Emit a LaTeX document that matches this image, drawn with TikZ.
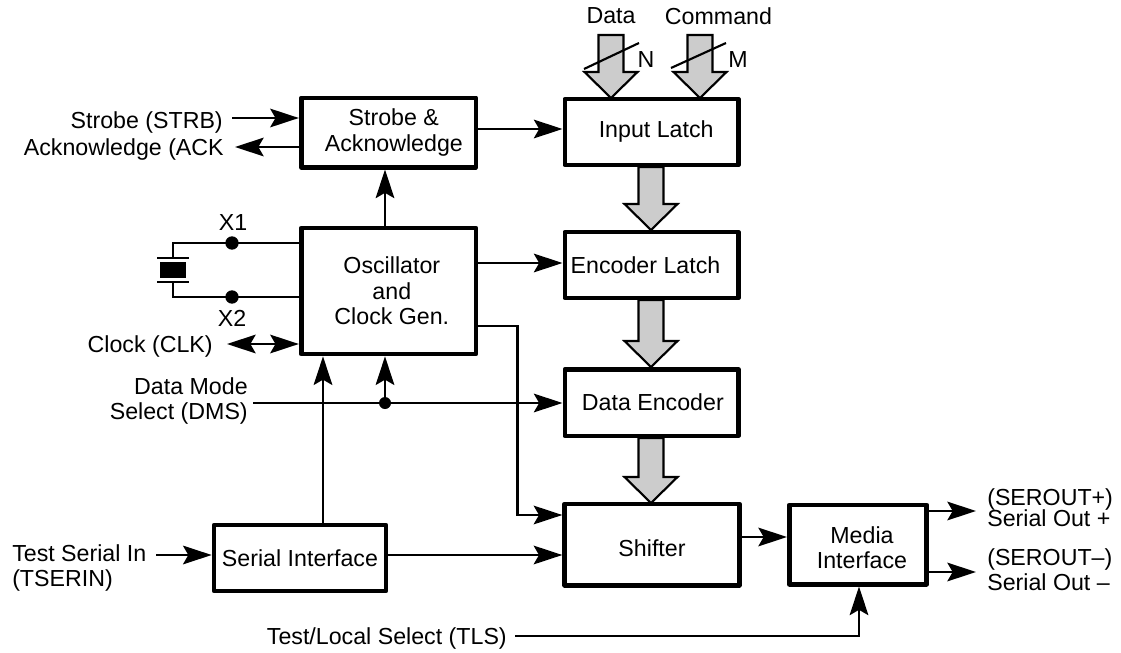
\documentclass[tikz,border=0pt]{standalone}
\usepackage{fontspec}
\setmainfont{Liberation Sans}
\usetikzlibrary{arrows.meta}
\tikzset{
    blockbox/.style={draw, line width=3.5pt, line join=round, fill=white, align=center, inner sep=0pt},
    sig/.style={line width=1.6pt},
    sigarrow/.style={sig, -{Stealth[length=21.5pt, width=14pt, inset=4pt]}},
    sigboth/.style={sig, {Stealth[length=21.5pt, width=14pt, inset=4pt]}-{Stealth[length=21.5pt, width=14pt, inset=4pt]}},
    busarrow/.style={draw, line width=1.6pt, fill=black!20, line join=miter},
    lbl/.style={align=center, inner sep=0pt},
    lblr/.style={align=right, anchor=east, inner sep=0pt},
    lbll/.style={align=left, anchor=west, inner sep=0pt},
    junction/.style={circle, fill=black, inner sep=0pt, minimum size=10pt}
}
% shaft centre x, top y, tip y
\newcommand{\busdown}[3]{
    \draw [busarrow] (#1-12.5,#2) -- (#1+12.5,#2) -- (#1+12.5,#3-26) -- (#1+26.5,#3-26)
        -- (#1,#3) -- (#1-26.5,#3-26) -- (#1-12.5,#3-26) -- cycle;
}
\begin{document}
\begin{tikzpicture}[x=0.75pt, y=-0.75pt, every node/.style={font=\fontsize{17.4pt}{19pt}\selectfont}]
    \useasboundingbox (0,0) rectangle (1121,653);
    % blocks
    \node [blockbox, minimum width=131pt, minimum height=52pt] (strobe) at (388.5,132.5) {\hspace*{8pt}Strobe \&\\\hspace*{8pt}Acknowledge};
    \node [blockbox, minimum width=130pt, minimum height=49.5pt] (input) at (651.5,132) {\hspace*{7pt}Input Latch};
    \node [blockbox, minimum width=130pt, minimum height=49.5pt] (encoder) at (651.5,265) {Encoder Latch\hspace*{9pt}};
    \node [blockbox, minimum width=130pt, minimum height=50pt] (dataenc) at (651.5,402.5) {\hspace*{2pt}Data Encoder};
    \node [blockbox, minimum width=131pt, minimum height=61pt] (shifter) at (652,544.5) {\rule{0pt}{17.7pt}Shifter};
    \node [blockbox, minimum width=131pt, minimum height=94.5pt] (osc) at (388.5,291) {\hspace*{5pt}Oscillator\\\hspace*{5pt}and\\\hspace*{5pt}Clock Gen.};
    \node [blockbox, minimum width=129pt, minimum height=49.5pt] (serial) at (300,558) {Serial Interface};
    \node [blockbox, minimum width=103pt, minimum height=59.5pt] (media) at (858,544.5) {\rule{0pt}{17.7pt}\hspace*{6pt}Media\\\hspace*{6pt}Interface};
    % buses
    \busdown{611}{35}{98}
    \busdown{700}{35}{98}
    \busdown{651}{167}{230}
    \busdown{651}{300}{367}
    \busdown{651}{438}{503}
    \coordinate (sn1) at (584,69);
    \coordinate (sn2) at (639,43);
    \coordinate (sm1) at (671,68);
    \coordinate (sm2) at (726,43);
    \draw [sig] (sn1) -- (sn2);
    \draw [sig] (sm1) -- (sm2);
    \node [lbl] (ldata) at (611,16) {Data};
    \node [lbl] (lcmd) at (718.5,16) {Command};
    \node [lbl] (ln) at (646,60) {N};
    \node [lbl] (lm) at (738,60) {M};
    % left inputs
    \node [lblr] (lstrb) at (223,122) {Strobe (STRB)};
    \node [lblr] (lack) at (224,149) {Acknowledge (ACK};
    \coordinate (strbin) at (232,118);
    \coordinate (ackout) at (235,147);
    \draw [sigarrow] (strbin) -- (strbin -| strobe.west);
    \draw [sigarrow] (ackout -| strobe.west) -- (ackout);
    \coordinate (a1) at (478,129);
    \draw [sigarrow] (a1) -- (a1 -| input.west);
    \coordinate (a0) at (385,226);
    \draw [sigarrow] (a0) -- (a0 |- strobe.south);
    % crystal
    \coordinate (xtop) at (173,243);
    \coordinate (xbot) at (173,297);
    \coordinate (p1) at (173,258);
    \coordinate (p2) at (173,282);
    \draw [sig] (xtop -| osc.west) -- (xtop) -- (p1);
    \draw [sig] (xbot -| osc.west) -- (xbot) -- (p2);
    \draw [sig] (157,258) -- (189,258);
    \draw [sig] (157,282) -- (189,282);
    \fill (160,262) rectangle (186,278);
    \node [junction] (x1) at (232,243) {};
    \node [junction] (x2) at (232,297) {};
    \node [lbl] (lx1) at (233,223) {X1};
    \node [lbl] (lx2) at (232,318) {X2};
    % clock and mode
    \node [lblr] (lclk) at (213,346) {Clock (CLK)};
    \coordinate (clk) at (227,344);
    \draw [sigboth] (clk) -- (clk -| osc.west);
    \node [lblr] (ldms) at (248,401) {Data Mode\\Select (DMS)};
    \coordinate (dms) at (253,403);
    \node [junction, minimum size=9pt] (j) at (385,403) {};
    \draw [sigarrow] (dms) -- (dms -| dataenc.west);
    \draw [sigarrow] (j) -- (j |- osc.south);
    \coordinate (a2) at (478,263);
    \draw [sigarrow] (a2) -- (a2 -| encoder.west);
    \coordinate (a3) at (478,326);
    \coordinate (a4) at (517.5,515);
    \draw [sigarrow] (a3) -| (a4) -- (a4 -| shifter.west);
    \coordinate (a5) at (323,525);
    \draw [sigarrow] (a5) -- (a5 |- osc.south);
    \coordinate (a6) at (388,555);
    \draw [sigarrow] (a6) -- (a6 -| shifter.west);
    % test serial
    \node [lbll] (ltser) at (12,568) {Test Serial In\\(TSERIN)};
    \coordinate (ser) at (156,555);
    \draw [sigarrow] (ser) -- (ser -| serial.west);
    % outputs
    \coordinate (s1) at (740,537);
    \draw [sigarrow] (s1) -- (s1 -| media.west);
    \coordinate (o1) at (976,511);
    \coordinate (o2) at (976,572);
    \draw [sigarrow] (o1 -| media.east) -- (o1);
    \draw [sigarrow] (o2 -| media.east) -- (o2);
    \node [lbll] (lout1) at (987,508) {(SEROUT+)\\[-3pt]Serial Out +};
    \node [lbll] (lout2) at (987,570) {(SEROUT–)\\Serial Out –};
    % test local
    \node [lblr] (ltls) at (507,638) {Test/Local Select (TLS)};
    \coordinate (tls) at (515,636);
    \coordinate (tls2) at (859,636);
    \draw [sigarrow] (tls) -- (tls2) -- (tls2 |- media.south);
\end{tikzpicture}
\end{document}
